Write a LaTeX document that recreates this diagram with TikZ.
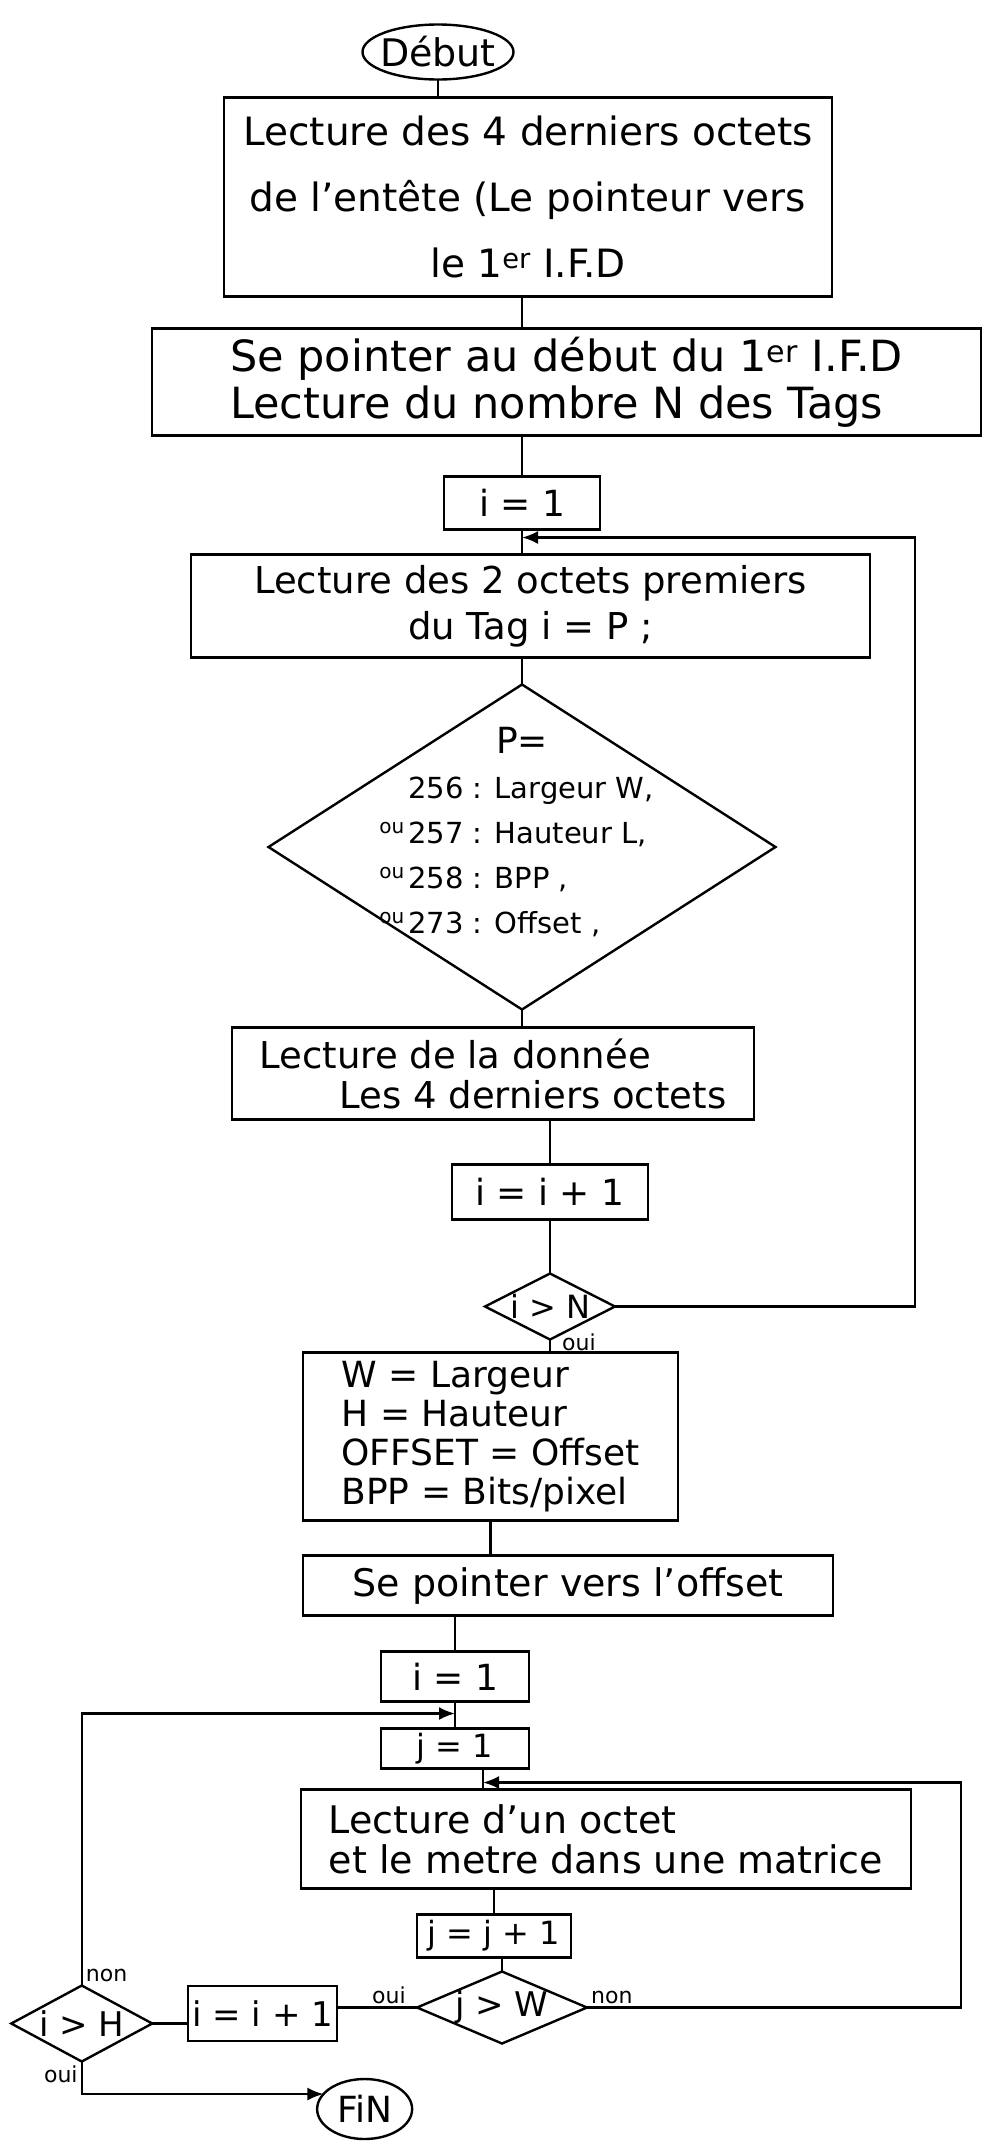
\documentclass[tikz,border=0pt]{standalone}
\usepackage{fontspec}
\setmainfont{DejaVu Sans}
\usepackage{tikz}
\usetikzlibrary{positioning,arrows.meta,shapes.geometric}

\newcommand{\oupre}{\llap{\raisebox{10pt}{\fontsize{20}{20}\selectfont ou}\hspace{4pt}}}

\begin{document}
\begin{tikzpicture}[
      line width=2.4pt,
      box/.style={draw, rectangle, inner sep=4pt, outer sep=0pt},
      term/.style={draw, ellipse, inner sep=-6pt, outer sep=0pt},
      decision/.style={draw, diamond, inner sep=0pt, outer sep=0pt},
      lbl/.style={font=\fontsize{22}{22}\selectfont, inner sep=3pt},
      flow/.style={-{Latex[length=16pt,width=13pt]}}
    ]
    \useasboundingbox (0,0) rectangle (984pt,-2148pt);

    \node[term, minimum width=151pt, minimum height=55pt, font=\fontsize{38}{40}\selectfont] (debut) at (438pt,-52pt) {Début};
    \node[box, below=18pt of debut, xshift=90pt, minimum width=608pt, minimum height=199pt, align=center, font=\fontsize{39}{66}\selectfont] (entete) {Lecture des 4 derniers octets\\de l'entête (Le pointeur vers\\le 1\textsuperscript{er} I.F.D};
    \node[box, below=32pt of entete, xshift=38.5pt, minimum width=829pt, minimum height=107pt, align=left, font=\fontsize{43}{47}\selectfont] (ifd) {Se pointer au début du 1\textsuperscript{er} I.F.D\\Lecture du nombre N des Tags};
    \node[box, below=41pt of ifd, xshift=-44.5pt, minimum width=156pt, minimum height=53pt, font=\fontsize{36}{40}\selectfont] (iun) {i = 1};
    \node[box, below=25pt of iun, xshift=8.5pt, minimum width=679pt, minimum height=103pt, align=center, font=\fontsize{37}{46}\selectfont] (tag) {Lecture des 2 octets premiers\\du Tag i = P ;};
    \node[decision, below=27pt of tag, xshift=-8.5pt, minimum width=507pt, minimum height=325pt,
      label={[align=left, xshift=9pt, yshift=15pt, font=\fontsize{29}{45}\selectfont]center:{\hspace*{88pt}{\fontsize{36}{45}\selectfont P=}\\256 : Largeur W,\\\oupre257 : Hauteur L,\\\oupre258 : BPP ,\\\oupre273 : Offset ,}}] (testP) {};
    \node[box, below=18pt of testP, xshift=-29pt, minimum width=522pt, minimum height=92pt, align=left, font=\fontsize{37}{40}\selectfont] (donnee) {Lecture de la donnée\\\hspace*{80pt}Les 4 derniers octets};
    \node[box, below=45pt of donnee, xshift=57pt, minimum width=196pt, minimum height=55pt, font=\fontsize{36}{40}\selectfont] (iinc) {i = i + 1};
    \node[decision, below=54pt of iinc, minimum width=130pt, minimum height=66pt, label={[font=\fontsize{32}{32}\selectfont]center:i > N}] (testN) {};
    \node[box, below=13pt of testN, xshift=-59.5pt, minimum width=375pt, minimum height=168pt, align=left, font=\fontsize{36}{39}\selectfont] (dims) {W = Largeur\\H = Hauteur\\OFFSET = Offset\\BPP = Bits/pixel};
    \node[box, below=35pt of dims, xshift=77.5pt, minimum width=530pt, minimum height=60pt, font=\fontsize{38}{40}\selectfont] (offset) {Se pointer vers l'offset};
    \node[box, below=36pt of offset, xshift=-113pt, minimum width=148pt, minimum height=50pt, font=\fontsize{36}{40}\selectfont] (iunb) {i = 1};
    \node[box, below=27pt of iunb, minimum width=148pt, minimum height=40pt, inner sep=2pt, font=\fontsize{32}{34}\selectfont] (jun) {j = 1};
    \node[box, below=21pt of jun, xshift=151pt, minimum width=610pt, minimum height=99pt, align=left, font=\fontsize{38}{40}\selectfont] (octet) {Lecture d'un octet\\et le metre dans une matrice};
    \node[box, below=26pt of octet, xshift=-112pt, minimum width=154pt, minimum height=43pt, inner sep=2pt, font=\fontsize{32}{34}\selectfont] (jinc) {j = j + 1};
    \node[decision, below=14pt of jinc, xshift=8pt, minimum width=170pt, minimum height=72pt, label={[font=\fontsize{34}{34}\selectfont]center:j > W}] (testW) {};
    \node[box, left=80pt of testW, yshift=-6pt, minimum width=144pt, minimum height=55pt, font=\fontsize{34}{36}\selectfont] (iincb) {i = i + 1};
    \node[decision, left=36pt of iincb, yshift=-10pt, minimum width=141pt, minimum height=76pt, label={[font=\fontsize{34}{34}\selectfont]center:i > H}] (testH) {};
    \node[term, below=38pt of iincb, xshift=102pt, minimum width=95pt, minimum height=60pt, font=\fontsize{36}{38}\selectfont] (fin) {FiN};

    \coordinate[below=8pt of iun] (nin);
    \coordinate[right=300pt of testN] (nloop);
    \coordinate[below=12pt of iunb] (iin);
    \coordinate[below=14pt of jun, xshift=28pt] (jin);
    \coordinate[right=374pt of testW] (wloop);

    \draw (debut.south) -- (debut.south |- entete.north);
    \draw (entete.south -| iun) -- (ifd.north -| iun);
    \draw (ifd.south -| iun) -- (iun);
    \draw (iun.south) -- (iun.south |- tag.north);
    \draw (tag.south -| testP) -- (testP);
    \draw (testP.south) -- (testP.south |- donnee.north);
    \draw (donnee.south -| iinc) -- (iinc);
    \draw (iinc) -- (testN);
    \draw (testN) -- node[lbl, above right, pos=1, xshift=10pt, inner sep=1pt]{oui} (testN.south |- dims.north);
    \draw[flow] (testN) -- (nloop) |- (nin);
    \draw (dims.south) -- (dims.south |- offset.north);
    \draw (offset.south -| iunb) -- (iunb);
    \draw (iunb) -- (jun);
    \draw (jun.south -| jin) -- (octet.north -| jin);
    \draw (octet.south -| jinc) -- (jinc);
    \draw (jinc.south -| testW) -- (testW);
    \draw (testW.west) -- node[lbl, above, pos=0.35]{oui} (testW.west -| iincb.east);
    \draw[flow] (testW) -- node[lbl, above right, pos=0]{non} (wloop) |- (jin);
    \draw (testH.east) -- (testH.east -| iincb.west);
    \draw[flow] (testH.north) |- node[lbl, above right, pos=0]{non} (iin);
    \draw[flow] (testH.south) |- node[lbl, below left, pos=0]{oui} (fin.160);
  \end{tikzpicture}
\end{document}
